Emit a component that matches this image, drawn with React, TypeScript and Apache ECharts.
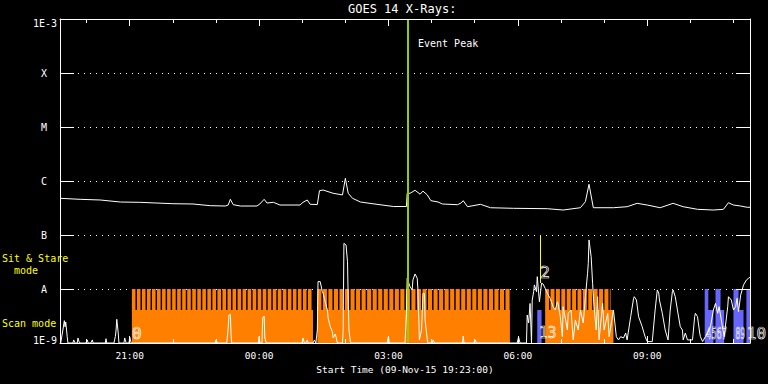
import React, { useEffect, useRef } from 'react';
import * as echarts from 'echarts';

// Time axis: minutes after 09-Nov-15 19:00 UT; plot runs 19:23 -> 11:23
const T_MIN = 23;
const T_MAX = 983;
const hourTicks = [60, 120, 180, 240, 300, 360, 420, 480, 540, 600, 660, 720, 780, 840, 900, 960];
const majorTicks = [120, 300, 480, 660, 840];
const yTickLabels = ['1E-9', 'A', 'B', 'C', 'M', 'X', '1E-3'];

// GOES 14 1-8 A (long channel) flux, W/m^2
const longChannel: [number, number][] = [
  [23, 4.78e-7], [51, 4.58e-7], [79, 4.45e-7], [107, 4.08e-7], [134, 4.03e-7], [180, 3.8e-7],
  [208, 3.75e-7], [232, 3.49e-7], [253, 3.44e-7], [257, 3.59e-7], [260, 4.58e-7], [264, 3.64e-7],
  [274, 3.44e-7], [297, 3.44e-7], [301, 3.75e-7], [307, 4.58e-7], [311, 3.91e-7], [320, 4.03e-7],
  [329, 3.59e-7], [357, 3.59e-7], [361, 4.03e-7], [367, 4.45e-7], [371, 3.7e-7], [381, 3.67e-7],
  [384, 6.61e-7], [389, 6.81e-7], [403, 5.92e-7], [416, 5.52e-7], [420, 1.12e-6], [424, 5.92e-7],
  [430, 4.78e-7], [441, 4.08e-7], [464, 3.7e-7], [487, 3.37e-7], [505, 3.37e-7], [506, 5.92e-7],
  [510, 5.92e-7], [517, 6.73e-7], [524, 5.7e-7], [528, 6.5e-7], [534, 5.52e-7], [539, 4.32e-7],
  [549, 4.08e-7], [555, 3.75e-7], [576, 3.64e-7], [581, 3.91e-7], [584, 4.32e-7], [590, 3.34e-7],
  [608, 3.7e-7], [622, 3.2e-7], [654, 3.12e-7], [701, 3.07e-7], [723, 2.9e-7], [747, 3.2e-7],
  [754, 4.14e-7], [759, 8.7e-7], [765, 3.2e-7], [793, 3.2e-7], [812, 3.34e-7], [826, 3.86e-7],
  [840, 3.59e-7], [858, 3.2e-7], [876, 3.86e-7], [890, 3.34e-7], [910, 2.99e-7], [932, 2.9e-7],
  [946, 2.99e-7], [953, 3.96e-7], [960, 3.59e-7], [970, 3.44e-7], [979, 3.26e-7], [983, 3.26e-7],
];

// GOES 14 0.5-4 A (short channel) flux, W/m^2
const shortChannel: [number, number][] = [
  [24, 1e-9], [27, 1.74e-9], [29, 2.59e-9], [30, 2.0e-9], [31, 2.45e-9], [33, 1.31e-9], [34, 1e-9],
  [41, 1e-9], [42, 1.14e-9], [44, 1e-9], [47, 1e-9], [48, 1.24e-9], [50, 1e-9], [59, 1e-9],
  [61, 1.14e-9], [62, 1e-9], [66, 1e-9], [68, 1.14e-9], [69, 1e-9], [86, 1e-9], [87, 1.2e-9],
  [88, 1e-9], [98, 1e-9], [100, 1.31e-9], [101, 1.74e-9], [102, 2.75e-9], [104, 1.53e-9], [105, 1e-9],
  [112, 1e-9], [113, 1.24e-9], [115, 1e-9], [119, 1e-9], [120, 1.29e-9], [122, 1e-9], [239, 1e-9],
  [240, 1.14e-9], [242, 1e-9], [255, 1e-9], [257, 1.9e-9], [258, 3.3e-9], [260, 3.4e-9], [261, 1.41e-9],
  [262, 1e-9], [299, 1e-9], [300, 1.31e-9], [301, 1e-9], [304, 1e-9], [305, 2.9e-9], [307, 3.16e-9],
  [308, 1.24e-9], [310, 1e-9], [360, 1e-9], [361, 1.24e-9], [363, 1e-9], [365, 1e-9], [367, 1.14e-9],
  [368, 1e-9], [375, 1e-9], [377, 1.14e-9], [379, 1e-9], [381, 1.74e-9], [382, 1.37e-8], [385, 1.37e-8],
  [388, 8.9e-9], [389, 8.4e-9], [392, 5.8e-9], [395, 4.08e-9], [396, 2.9e-9], [399, 2.0e-9],
  [402, 1.62e-9], [403, 1.24e-9], [406, 1.47e-9], [409, 1e-9], [416, 1e-9], [417, 1.74e-9],
  [418, 7.0e-8], [421, 6.5e-8], [423, 3.2e-8], [424, 6.25e-9], [425, 1.74e-9], [427, 1.06e-9],
  [428, 1e-9], [478, 1e-9], [480, 1.31e-9], [481, 1e-9], [503, 1e-9], [505, 3.55e-9], [506, 1.58e-8],
  [510, 1.1e-8], [513, 9.6e-9], [514, 1.47e-8], [517, 1.9e-8], [520, 1.58e-8], [521, 9.6e-9],
  [523, 1.14e-9], [526, 1.74e-9], [528, 8.3e-9], [530, 8.3e-9], [531, 2.67e-9], [534, 1.14e-9],
  [535, 1e-9], [541, 1e-9], [542, 1.14e-9], [544, 1e-9], [583, 1e-9], [584, 1.35e-9], [585, 1e-9],
  [599, 1e-9], [601, 1.14e-9], [602, 1e-9], [659, 1e-9], [661, 1.29e-9], [663, 1e-9], [672, 1e-9],
  [673, 3.3e-9], [675, 2.35e-9], [677, 5.4e-9], [679, 1e-9], [680, 6.25e-9], [682, 8.9e-9],
  [683, 1.19e-8], [686, 8.9e-9], [687, 1.69e-8], [690, 5.8e-9], [693, 1.28e-8], [695, 1.24e-8],
  [698, 1.03e-8], [701, 8.3e-9], [705, 6.7e-9], [709, 4.7e-9], [712, 4.08e-9], [715, 5.8e-9],
  [716, 5.4e-9], [719, 3.07e-9], [722, 1.31e-9], [723, 4.7e-9], [729, 1.74e-9], [730, 3.55e-9],
  [734, 4.08e-9], [737, 1.14e-9], [740, 2.67e-9], [744, 1.74e-9], [747, 4.08e-9], [751, 2.35e-9],
  [754, 7.2e-9], [757, 1.95e-8], [758, 2.99e-8], [759, 8.1e-8], [762, 3.96e-8], [764, 1.28e-8],
  [766, 4.7e-9], [769, 1.74e-9], [771, 7.2e-9], [773, 1.14e-9], [778, 5.4e-9], [780, 1.74e-9],
  [785, 3.55e-9], [787, 1.31e-9], [793, 4.08e-9], [797, 1.31e-9], [800, 1.14e-9], [803, 1.31e-9],
  [807, 1.24e-9], [810, 1.53e-9], [812, 1.14e-9], [817, 3.07e-9], [821, 6.7e-9], [822, 7.2e-9],
  [825, 6.25e-9], [828, 3.07e-9], [833, 2.0e-9], [837, 1.31e-9], [840, 1.06e-9], [847, 1.06e-9],
  [851, 4.08e-9], [854, 9.6e-9], [856, 8.4e-9], [857, 6.25e-9], [861, 3.55e-9], [865, 1.74e-9],
  [869, 1.14e-9], [872, 4.08e-9], [875, 8.9e-9], [876, 9.6e-9], [879, 7.2e-9], [882, 4.08e-9],
  [886, 2.0e-9], [889, 1.74e-9], [890, 1.14e-9], [893, 1.53e-9], [896, 1.14e-9], [903, 1.14e-9],
  [906, 3.07e-9], [907, 3.55e-9], [910, 3.07e-9], [913, 1.53e-9], [914, 1.31e-9], [917, 1.06e-9],
  [921, 1.31e-9], [928, 2.0e-9], [932, 4.08e-9], [935, 5.4e-9], [938, 3.55e-9], [940, 4.7e-9],
  [945, 1.87e-9], [947, 1.31e-9], [952, 4.7e-9], [953, 7.2e-9], [957, 6.25e-9], [960, 4.08e-9],
  [963, 4.7e-9], [965, 6.7e-9], [967, 3.8e-9], [970, 7.7e-9], [972, 9.6e-9], [974, 1.19e-8],
  [978, 1.47e-8], [981, 1.58e-8], [983, 1.65e-8],
];

// Raster-scan observations (orange): start, end, end of raster teeth, raster cadence (min)
const scanStart = [123, 381, 698];
const scanEnd = [375, 649, 793];
const scanTeethEnd = [375, 649, 789];
const scanCadence = [7.0, 7.7, 7.5];

// Sit-and-stare observations (blue): start, end, end of tall part
const sitStart = [687, 920, 935, 960, 978];
const sitEnd = [693, 932, 947, 974, 983];
const sitTallEnd = [687, 925, 942, 967, 983];

// Observation number labels (crowded numbers are drawn condensed, as in the original)
const obsLabels = ['0', '13', '2', '4567', '89', '10'];
const obsLabelTime = [130, 701.6, 698, 936.4, 969.6, 991.9];
const obsLabelFlux = [1.53e-9, 1.53e-9, 2.06e-8, 1.53e-9, 1.53e-9, 1.53e-9];
const obsLabelSquash = [1, 0.9, 1, 0.55, 0.5, 1];

const eventPeakTime = 507.5;
const markerTime = 691;
const markerTop = 1e-7;
const markerBottom = 1.29e-8;

const FLOOR = 1e-9;
const LOW_LEVEL = 4.08e-9;
const TOP_LEVEL = 1e-8;
const GAP_MIN = 2.0;

const ORANGE = '#ff8000';
const BLUE = '#6666ff';
const GREEN = '#99cc00';
const YELLOW = '#ffff00';
const FONT = '"DejaVu Sans Mono", monospace';

function fmtClock(v: number) {
  const total = (19 * 60 + Math.round(v)) % 1440;
  const h = Math.floor(total / 60);
  const m = total % 60;
  return String(h).padStart(2, '0') + ':' + String(m).padStart(2, '0');
}

function rectBetween(api: any, t0: number, v0: number, t1: number, v1: number, fill: string) {
  const a = api.coord([t0, v1]);
  const b = api.coord([t1, v0]);
  return {
    type: 'rect',
    shape: { x: a[0], y: a[1], width: b[0] - a[0], height: b[1] - a[1] },
    style: { fill },
  };
}

function buildOption() {
  const xBase: any = {
    type: 'value',
    min: T_MIN,
    max: T_MAX,
    gridIndex: 0,
    z: 10,
    splitLine: { show: false },
    axisLabel: { show: false },
    axisLine: { show: false },
    axisTick: { show: false },
  };
  const white = { color: '#fff', width: 1 };
  const yLabelRich = {
    c: { color: '#fff', fontSize: 10, fontFamily: FONT, padding: [0, 10, 0, 0] },
    lo: { color: '#fff', fontSize: 10, fontFamily: FONT, padding: [0, 0, 6, 0] },
    hi: { color: '#fff', fontSize: 10, fontFamily: FONT, padding: [8, 0, 0, 0] },
  };

  return {
    animation: false,
    backgroundColor: '#000',
    title: {
      text: 'GOES 14 X-Rays:',
      left: 348,
      top: 3,
      padding: 0,
      textStyle: { color: '#fff', fontSize: 12, fontWeight: 'normal', fontFamily: FONT },
    },
    grid: { left: 60, top: 19, width: 690, height: 324 },
    graphic: [
      { type: 'text', left: 2, top: 253, style: { text: 'Sit & Stare', fill: YELLOW, fontSize: 10, fontFamily: FONT } },
      { type: 'text', left: 2, top: 265, style: { text: '  mode', fill: YELLOW, fontSize: 10, fontFamily: FONT } },
      { type: 'text', left: 2, top: 318, style: { text: 'Scan mode', fill: YELLOW, fontSize: 10, fontFamily: FONT } },
    ],
    xAxis: [
      {
        ...xBase,
        position: 'bottom',
        axisLine: { show: true, lineStyle: white },
        axisTick: { show: true, inside: true, length: 7, customValues: majorTicks, lineStyle: white },
        axisLabel: {
          show: true,
          customValues: majorTicks,
          formatter: fmtClock,
          color: '#fff',
          fontSize: 9.5,
          fontFamily: FONT,
          margin: 7,
        },
        name: 'Start Time (09-Nov-15 19:23:00)',
        nameLocation: 'middle',
        nameGap: 20,
        nameTextStyle: { color: '#fff', fontSize: 9.5, fontFamily: FONT },
      },
      {
        ...xBase,
        position: 'bottom',
        axisTick: { show: true, inside: true, length: 4, customValues: hourTicks, lineStyle: white },
      },
      {
        ...xBase,
        position: 'top',
        axisLine: { show: true, lineStyle: white },
        axisTick: { show: true, inside: true, length: 7, customValues: majorTicks, lineStyle: white },
      },
      {
        ...xBase,
        position: 'top',
        axisTick: { show: true, inside: true, length: 4, customValues: hourTicks, lineStyle: white },
      },
    ],
    yAxis: [
      {
        type: 'log',
        logBase: 10,
        min: 1e-9,
        max: 1e-3,
        splitNumber: 6,
        position: 'left',
        axisLine: { show: true, lineStyle: white },
        axisTick: { show: true, inside: true, length: 14, lineStyle: white },
        minorTick: { show: false },
        axisLabel: {
          color: '#fff',
          fontSize: 10,
          fontFamily: FONT,
          margin: 3,
          formatter: (v: number) => {
            const e = Math.round(Math.log10(v));
            const lab = yTickLabels[e + 9];
            if (lab === undefined) return '';
            if (e === -9) return '{lo|' + lab + '}';
            if (e === -3) return '{hi|' + lab + '}';
            return '{c|' + lab + '}';
          },
          rich: yLabelRich,
        },
        splitLine: { show: true, lineStyle: { color: '#fff', width: 1, type: [1, 5] } },
      },
      {
        type: 'log',
        logBase: 10,
        min: 1e-9,
        max: 1e-3,
        splitNumber: 6,
        position: 'right',
        z: 10,
        axisLine: { show: true, lineStyle: white },
        axisTick: { show: true, inside: true, length: 14, lineStyle: white },
        axisLabel: { show: false },
        splitLine: { show: false },
      },
    ],
    series: [
      {
        type: 'custom',
        name: 'scan',
        z: 2,
        xAxisIndex: 0,
        yAxisIndex: 0,
        data: scanStart.map((s, i) => [s, scanEnd[i], scanTeethEnd[i], scanCadence[i]]),
        encode: { x: [0, 1, 2] },
        renderItem: (params: any, api: any) => {
          const s = api.value(0);
          const e = api.value(1);
          const te = api.value(2);
          const c = api.value(3);
          const children: any[] = [rectBetween(api, s, FLOOR, e, LOW_LEVEL, ORANGE)];
          for (let t = s; t < te - 0.5; t += c) {
            const tEnd = Math.min(t + c - GAP_MIN, te);
            children.push(rectBetween(api, t, LOW_LEVEL - 1e-10, tEnd, TOP_LEVEL, ORANGE));
          }
          return { type: 'group', children };
        },
      },
      {
        type: 'custom',
        name: 'sit',
        z: 2,
        xAxisIndex: 0,
        yAxisIndex: 0,
        data: sitStart.map((s, i) => [s, sitEnd[i], sitTallEnd[i]]),
        encode: { x: [0, 1, 2] },
        renderItem: (params: any, api: any) => {
          const s = api.value(0);
          const e = api.value(1);
          const te = api.value(2);
          const children: any[] = [rectBetween(api, s, FLOOR, e, LOW_LEVEL, BLUE)];
          if (te > s) children.push(rectBetween(api, s, LOW_LEVEL - 1e-10, te, TOP_LEVEL, BLUE));
          return { type: 'group', children };
        },
      },
      {
        type: 'custom',
        name: 'marker',
        z: 2,
        xAxisIndex: 0,
        yAxisIndex: 0,
        data: [[markerTime, markerTop, markerBottom]],
        encode: { x: 0 },
        renderItem: (params: any, api: any) => {
          const a = api.coord([api.value(0), api.value(1)]);
          const b = api.coord([api.value(0), api.value(2)]);
          const x = Math.round(a[0]) + 0.5;
          return {
            type: 'line',
            shape: { x1: x, y1: a[1], x2: x, y2: b[1] },
            style: { stroke: YELLOW, lineWidth: 1 },
          };
        },
      },
      {
        type: 'line',
        name: 'short',
        z: 3,
        xAxisIndex: 0,
        yAxisIndex: 0,
        data: shortChannel,
        showSymbol: false,
        symbol: 'none',
        lineStyle: { color: '#fff', width: 1 },
      },
      {
        type: 'line',
        name: 'long',
        z: 3,
        xAxisIndex: 0,
        yAxisIndex: 0,
        data: longChannel,
        showSymbol: false,
        symbol: 'none',
        lineStyle: { color: '#fff', width: 1 },
      },
      {
        type: 'custom',
        name: 'event',
        z: 4,
        xAxisIndex: 0,
        yAxisIndex: 0,
        data: [[eventPeakTime]],
        encode: { x: 0 },
        renderItem: (params: any, api: any) => {
          const t = api.value(0);
          const top = api.coord([t, 1e-3]);
          const bot = api.coord([t, 1e-9]);
          const x = Math.round(top[0]);
          return {
            type: 'group',
            children: [
              {
                type: 'line',
                shape: { x1: x, y1: top[1], x2: x, y2: bot[1] },
                style: { stroke: GREEN, lineWidth: 2 },
              },
              {
                type: 'text',
                x: x + 10,
                y: top[1] + 24,
                style: {
                  text: 'Event Peak',
                  fill: '#fff',
                  fontSize: 10,
                  fontFamily: FONT,
                  align: 'left',
                  verticalAlign: 'middle',
                },
              },
            ],
          };
        },
      },
      {
        type: 'custom',
        name: 'labels',
        z: 5,
        clip: false,
        xAxisIndex: 0,
        yAxisIndex: 0,
        data: obsLabelTime.map((t, i) => [t, obsLabelFlux[i], i]),
        encode: { x: 0, y: 1 },
        renderItem: (params: any, api: any) => {
          const p = api.coord([api.value(0), api.value(1)]);
          const i = api.value(2);
          return {
            type: 'text',
            x: p[0],
            y: p[1],
            scaleX: obsLabelSquash[i],
            style: {
              text: obsLabels[i],
              fill: 'rgba(0,0,0,0)',
              stroke: '#fff',
              lineWidth: 0.7,
              fontSize: 16,
              fontFamily: FONT,
              align: 'center',
              verticalAlign: 'middle',
            },
          };
        },
      },
    ],
  };
}

export default function App() {
  const ref = useRef<HTMLDivElement>(null);
  useEffect(() => {
    if (!ref.current) return;
    const chart = echarts.init(ref.current, null, { renderer: 'svg' });
    chart.setOption(buildOption() as any);
    return () => chart.dispose();
  }, []);
  return (
    <div
      ref={ref}
      style={{ position: 'absolute', left: 0, top: 0, width: 768, height: 384, background: '#000' }}
    />
  );
}
